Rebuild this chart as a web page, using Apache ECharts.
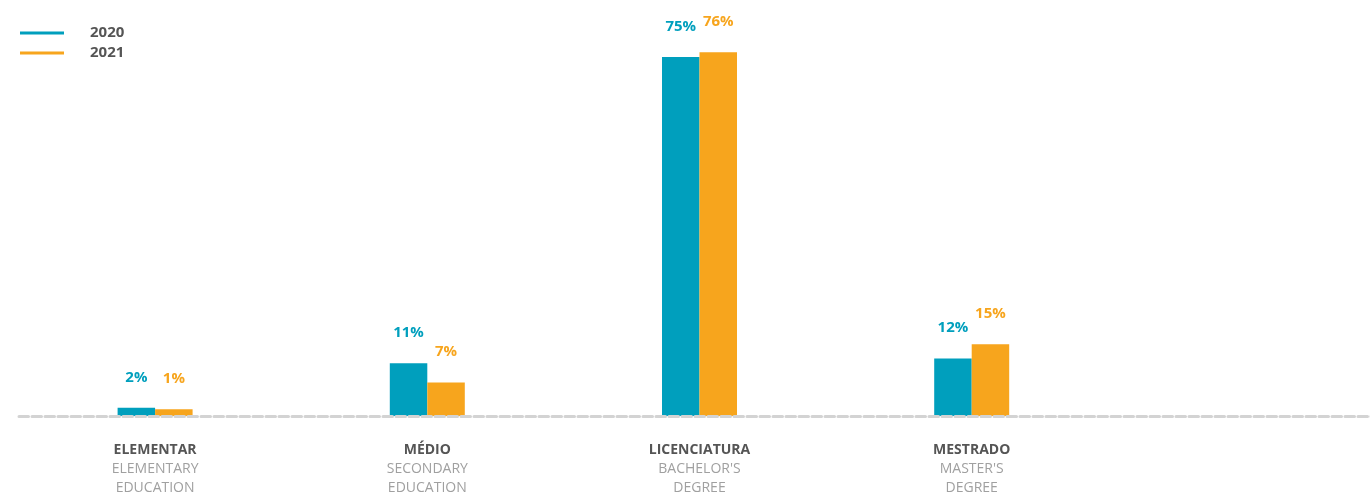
<!DOCTYPE html>
<html>
<head>
<meta charset="utf-8">
<script src="https://cdn.jsdelivr.net/npm/echarts@6/dist/echarts.min.js"></script>
<style>
html,body{margin:0;padding:0;background:#fff;}
#c{width:1370px;height:493px;}
</style>
</head>
<body>
<div id="c"></div>
<script>
const categoriesPT = ['ELEMENTAR', 'MÉDIO', 'LICENCIATURA', 'MESTRADO', ''];
const categoriesEN = ['ELEMENTARY\nEDUCATION', 'SECONDARY\nEDUCATION', "BACHELOR'S\nDEGREE", "MASTER'S\nDEGREE", ''];
const seriesNames = ['2020', '2021'];
const values2020 = [1.7, 11, 75, 12, null];
const values2021 = [1.4, 7, 76, 15, null];

const colors = ['#009fbd', '#f7a51d'];
const FONT = '"Open Sans", sans-serif';

const cats = categoriesPT.map((p, i) => p ? (p + '\n' + categoriesEN[i]) : '');

const chart = echarts.init(document.getElementById('c'));
function mkSeries(name, data, color) {
  return {
    name: name,
    type: 'bar',
    data: data,
    barWidth: 37.5,
    barGap: '0%',
    itemStyle: { color: color },
    z: 2,
    label: {
      show: true,
      position: 'top',
      distance: 23,
      color: color,
      fontFamily: FONT,
      fontWeight: 'bold',
      fontSize: 15,
      formatter: p => Math.round(p.value) + '%'
    }
  };
}
chart.setOption({
  animation: false,
  color: colors,
  legend: {
    left: 20,
    top: 23,
    padding: 0,
    orient: 'vertical',
    icon: 'rect',
    itemWidth: 44,
    itemHeight: 3,
    itemGap: 0,
    textStyle: {
      color: '#555',
      fontFamily: FONT,
      fontWeight: 'bold',
      fontSize: 15,
      lineHeight: 20,
      padding: [0, 0, 0, 21]
    },
    data: seriesNames
  },
  grid: { left: 19, right: -10, top: 33, bottom: 77, outerBoundsMode: 'none', containLabel: false },
  xAxis: {
    type: 'category',
    data: cats,
    z: 5,
    axisLine: { show: true, lineStyle: { color: '#d3d3d3', width: 3, type: [9.5, 3.5] } },
    axisTick: { show: false },
    axisLabel: {
      margin: 25,
      interval: 0,
      formatter: v => {
        if (!v) return '';
        const parts = v.split('\n');
        return '{a|' + parts[0] + '}\n' + parts.slice(1).map(s => '{b|' + s + '}').join('\n');
      },
      rich: {
        a: { fontFamily: FONT, fontWeight: 'bold', fontSize: 14, color: '#555', lineHeight: 19 },
        b: { fontFamily: FONT, fontSize: 14, color: '#a0a0a0', lineHeight: 19 }
      }
    }
  },
  yAxis: {
    type: 'value',
    min: 0,
    max: 80,
    show: false,
    splitLine: { show: false }
  },
  series: [
    mkSeries(seriesNames[0], values2020, colors[0]),
    mkSeries(seriesNames[1], values2021, colors[1])
  ]
});
</script>
</body>
</html>
